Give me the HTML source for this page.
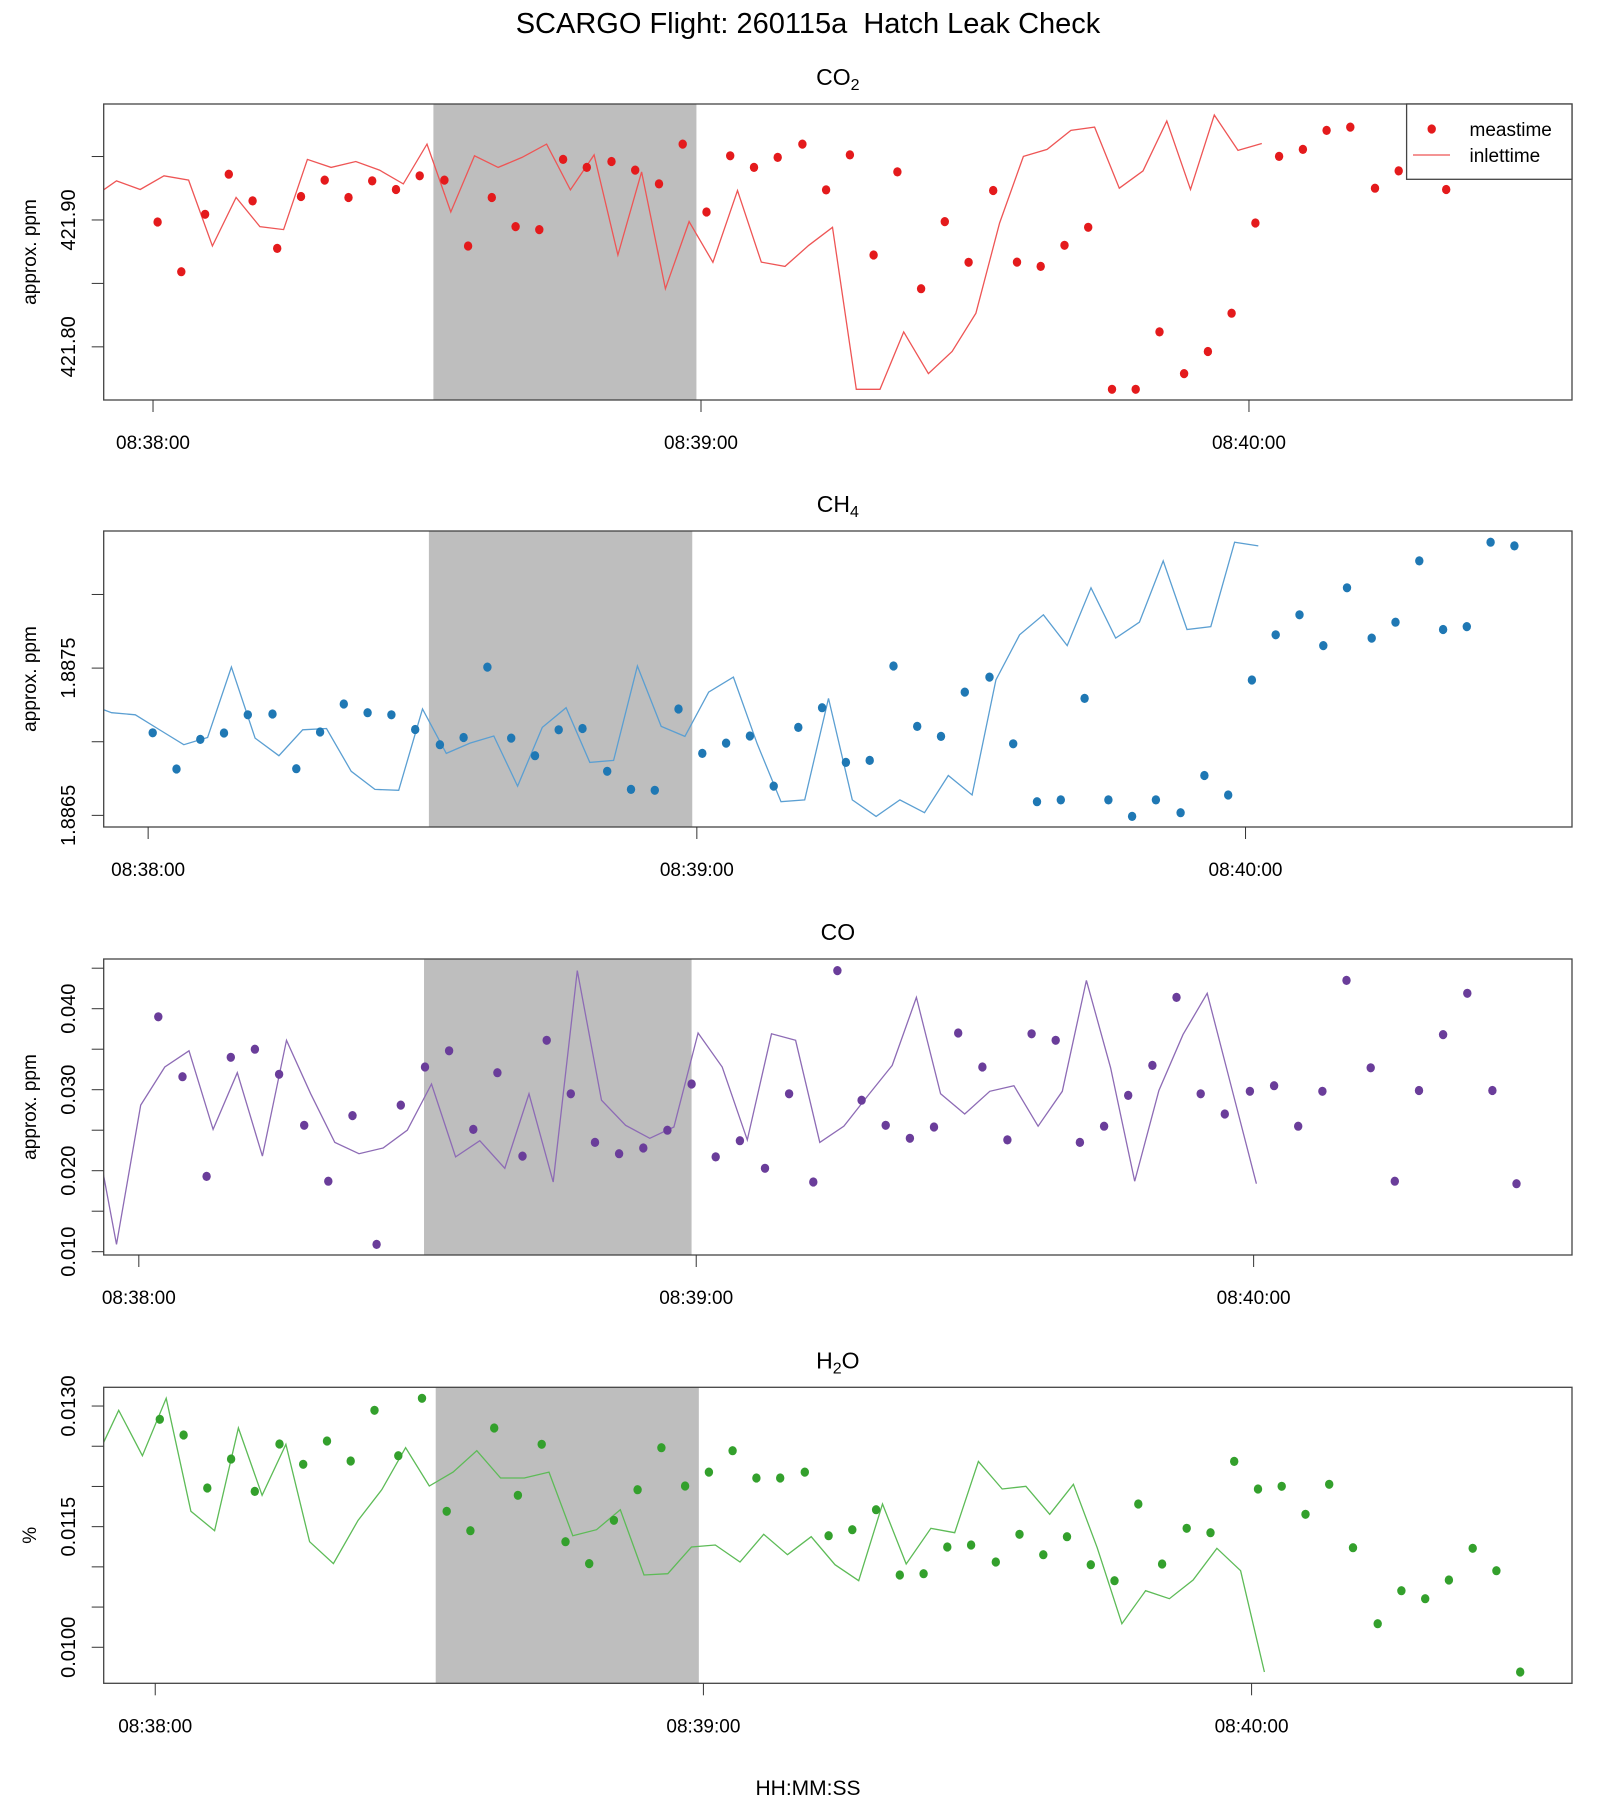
<!DOCTYPE html>
<html><head><meta charset="utf-8"><title>SCARGO Flight 260115a Hatch Leak Check</title>
<style>html,body{margin:0;padding:0;background:#fff;}svg{display:block;font-family:"Liberation Sans",Arial,sans-serif;}</style>
</head><body>
<svg id="fig" width="1600" height="1800" viewBox="0 0 1600 1800" xmlns="http://www.w3.org/2000/svg">
<text x="808" y="33" font-size="29" text-anchor="middle" xml:space="preserve">SCARGO Flight: 260115a  Hatch Leak Check</text>
<text x="808" y="1795" font-size="21" text-anchor="middle">HH:MM:SS</text>
</svg>
<script>
// ---- data ----
const tickLabels = ["08:38:00","08:39:00","08:40:00"];
const tickSeconds = [0, 60, 120];
const inletLag = 28;
const shadeStart = 30.7;
const shadeEnd = 59.5;
const tMeas = [0.5,3.1,5.7,8.3,10.9,13.6,16.2,18.8,21.4,24.0,26.6,29.2,31.9,34.5,37.1,39.7,42.3,44.9,47.5,50.2,52.8,55.4,58.0,60.6,63.2,65.8,68.4,71.1,73.7,76.3,78.9,81.5,84.1,86.7,89.3,92.0,94.6,97.2,99.8,102.4,105.0,107.6,110.2,112.9,115.5,118.1,120.7,123.3,125.9,128.5,131.1,133.8,136.4,139.0,141.6,144.2,146.8,149.4];
const tMeasCO = [2.1,4.7,7.3,9.9,12.5,15.1,17.8,20.4,23.0,25.6,28.2,30.8,33.4,36.0,38.6,41.3,43.9,46.5,49.1,51.7,54.3,56.9,59.5,62.1,64.7,67.4,70.0,72.6,75.2,77.8,80.4,83.0,85.6,88.2,90.8,93.5,96.1,98.7,101.3,103.9,106.5,109.1,111.7,114.3,116.9,119.6,122.2,124.8,127.4,130.0,132.6,135.2,137.8,140.4,143.0,145.7,148.3];
const co2Values = [421.8984,421.8592,421.9045,421.9361,421.9150,421.8776,421.9185,421.9314,421.9177,421.9308,421.9240,421.9348,421.9314,421.8795,421.9177,421.8948,421.8924,421.9477,421.9414,421.9461,421.9393,421.9284,421.9598,421.9063,421.9506,421.9414,421.9493,421.9598,421.9237,421.9513,421.8724,421.9379,421.8458,421.8987,421.8666,421.9232,421.8668,421.8634,421.8800,421.8942,421.7665,421.7665,421.8118,421.7789,421.7963,421.8265,421.8976,421.9501,421.9556,421.9706,421.9732,421.9250,421.9387,421.9780,421.9240,421.9827,421.9548,421.9603];
const ch4Values = [1.887061,1.886815,1.887016,1.887059,1.887183,1.887188,1.886817,1.887066,1.887256,1.887197,1.887183,1.887083,1.886980,1.887029,1.887507,1.887025,1.886905,1.887081,1.887090,1.886799,1.886676,1.886670,1.887222,1.886921,1.886991,1.887039,1.886699,1.887097,1.887231,1.886860,1.886873,1.887514,1.887104,1.887036,1.887337,1.887439,1.886986,1.886593,1.886605,1.887294,1.886605,1.886493,1.886605,1.886518,1.886771,1.886638,1.887419,1.887726,1.887862,1.887653,1.888045,1.887704,1.887812,1.888228,1.887762,1.887782,1.888355,1.888330];
const coValues = [0.0390,0.0316,0.0193,0.0340,0.0350,0.0319,0.0256,0.0187,0.0268,0.0109,0.0281,0.0328,0.0348,0.0251,0.0321,0.0218,0.0361,0.0295,0.0235,0.0221,0.0228,0.0250,0.0307,0.0217,0.0237,0.0203,0.0295,0.0186,0.0447,0.0287,0.0256,0.0240,0.0254,0.0370,0.0328,0.0238,0.0369,0.0361,0.0235,0.0255,0.0293,0.0330,0.0414,0.0295,0.0270,0.0298,0.0305,0.0255,0.0298,0.0435,0.0327,0.0187,0.0299,0.0368,0.0419,0.0299,0.0184];
const h2oValues = [0.012835,0.012640,0.011981,0.012341,0.011939,0.012528,0.012275,0.012565,0.012316,0.012947,0.012382,0.013096,0.011691,0.011450,0.012727,0.011890,0.012524,0.011313,0.011040,0.011579,0.011959,0.012482,0.012005,0.012179,0.012445,0.012105,0.012105,0.012179,0.011388,0.011462,0.011711,0.010899,0.010915,0.011247,0.011272,0.011061,0.011405,0.011151,0.011375,0.011027,0.010828,0.011782,0.011036,0.011479,0.011425,0.012312,0.011968,0.012002,0.011654,0.012027,0.011238,0.010293,0.010704,0.010604,0.010837,0.011231,0.010952,0.009693];
const co2Ticks = [421.80,421.85,421.90,421.95];
const co2TickLabels = ["421.80","","421.90",""];
const ch4Ticks = [1.8865,1.8870,1.8875,1.8880];
const ch4TickLabels = ["1.8865","","1.8875",""];
const coTicks = [0.010,0.015,0.020,0.025,0.030,0.035,0.040,0.045];
const coTickLabels = ["0.010","","0.020","","0.030","","0.040",""];
const h2oTicks = [0.0100,0.0105,0.0110,0.0115,0.0120,0.0125,0.0130];
const h2oTickLabels = ["0.0100","","","0.0115","","","0.0130"];

const NS = "http://www.w3.org/2000/svg";
const svg = document.getElementById('fig');
function mk(tag, attrs, parent){const e=document.createElementNS(NS,tag);for(const k in attrs)e.setAttribute(k,attrs[k]);(parent||svg).appendChild(e);return e;}

const L = 103.7, R = 1572, H = 296;
const panels = [
 {key:'co2', top:104, xlim:[-5.40,155.37], ylim:[421.7581,421.9914], times:tMeas, vals:co2Values, ticks:co2Ticks, tl:co2TickLabels, col:'#E41A1C', lcol:'#EE5555', title:['CO','2'], ylab:'approx. ppm', legend:true},
 {key:'ch4', top:531, xlim:[-4.86,155.70], ylim:[1.886421,1.888431], times:tMeas, vals:ch4Values, ticks:ch4Ticks, tl:ch4TickLabels, col:'#1F78B4', lcol:'#5B9FD2', title:['CH','4'], ylab:'approx. ppm'},
 {key:'co', top:959, xlim:[-3.78,154.27], ylim:[0.009593,0.046136], times:tMeasCO, vals:coValues, ticks:coTicks, tl:coTickLabels, col:'#6A3D9A', lcol:'#8D6BB5', title:['CO',''], ylab:'approx. ppm'},
 {key:'h2o', top:1387.3, xlim:[-5.64,155.07], ylim:[0.009552,0.013233], times:tMeas, vals:h2oValues, ticks:h2oTicks, tl:h2oTickLabels, col:'#33A02C', lcol:'#5DBB57', title:['H','2','O'], ylab:'%'}
];

panels.forEach(p=>{
  const top=p.top, bot=top+H;
  const xs = t => L + (t-p.xlim[0])/(p.xlim[1]-p.xlim[0])*(R-L);
  const ys = v => bot - (v-p.ylim[0])/(p.ylim[1]-p.ylim[0])*H;
  const g = mk('g',{});
  
  
  const cp = mk('clipPath',{id:'clip-'+p.key},g);
  mk('rect',{x:L,y:top,width:R-L,height:H},cp);
  const sh = mk('rect',{x:xs(shadeStart),y:top,width:xs(shadeEnd)-xs(shadeStart),height:H,fill:'#BEBEBE'},g);
  
  
  const pts = p.times.map((t,i)=>xs(t-inletLag).toFixed(1)+','+ys(p.vals[i]).toFixed(1)).join(' ');
  const ln = mk('polyline',{points:pts,fill:'none',stroke:p.lcol,'stroke-width':1.3,'clip-path':'url(#clip-'+p.key+')'},g);
  
  
  p.times.forEach((t,i)=>{
    const c = mk('ellipse',{cx:xs(t).toFixed(1),cy:ys(p.vals[i]).toFixed(1),rx:4.2,ry:4.6,fill:p.col,'clip-path':'url(#clip-'+p.key+')'},g);
    
    
  });
  const bx = mk('rect',{x:L,y:top,width:R-L,height:H,fill:'none',stroke:'#444','stroke-width':1.3},g);
  
  
  tickSeconds.forEach((s,i)=>{
    const x = xs(s);
    const tk = mk('line',{x1:x,x2:x,y1:bot,y2:bot+12,stroke:'#333','stroke-width':1},g);
    
    
    const tx = mk('text',{x:x,y:bot+49,'font-size':19,'text-anchor':'middle'},g);
    tx.textContent = tickLabels[i];
    
    
  });
  p.ticks.forEach((v,i)=>{
    const y = ys(v);
    const tk = mk('line',{x1:L-12,x2:L,y1:y,y2:y,stroke:'#333','stroke-width':1},g);
    
    
    if(p.tl[i]){
      const tx = mk('text',{x:0,y:0,'font-size':20,'text-anchor':'middle',transform:'translate(75,'+y.toFixed(1)+') rotate(-90)'},g);
      tx.textContent = p.tl[i];
      
      
    }
  });
  const yl = mk('text',{x:0,y:0,'font-size':19,'text-anchor':'middle',transform:'translate(36,'+(top+H/2).toFixed(1)+') rotate(-90)'},g);
  yl.textContent = p.ylab;
  
  
  const tt = mk('text',{x:(L+R)/2,y:top-19,'font-size':23,'text-anchor':'middle'},g);
  
  
  const s1 = mk('tspan',{},tt); s1.textContent = p.title[0];
  if(p.title[1]){ const s2 = mk('tspan',{'font-size':16,dy:5},tt); s2.textContent = p.title[1]; }
  if(p.title[2]){ const s3 = mk('tspan',{dy:-5},tt); s3.textContent = p.title[2]; }
  if(p.legend){
    const lg = mk('g',{},g);
    
    
    mk('rect',{x:1406.6,y:top,width:R-1406.6,height:75.3,fill:'#fff',stroke:'#444','stroke-width':1.3},lg);
    const d = mk('ellipse',{cx:1431.7,cy:top+25,rx:4.2,ry:4.6,fill:p.col},lg);
    
    
    const t1 = mk('text',{x:1469.5,y:top+32,'font-size':19},lg); t1.textContent='meastime';
    
    
    const l2 = mk('line',{x1:1413,x2:1450,y1:top+51,y2:top+51,stroke:p.lcol,'stroke-width':1.3},lg);
    
    
    const t2 = mk('text',{x:1469.5,y:top+58,'font-size':19},lg); t2.textContent='inlettime';
    
    
  }
});
</script>
</body></html>
